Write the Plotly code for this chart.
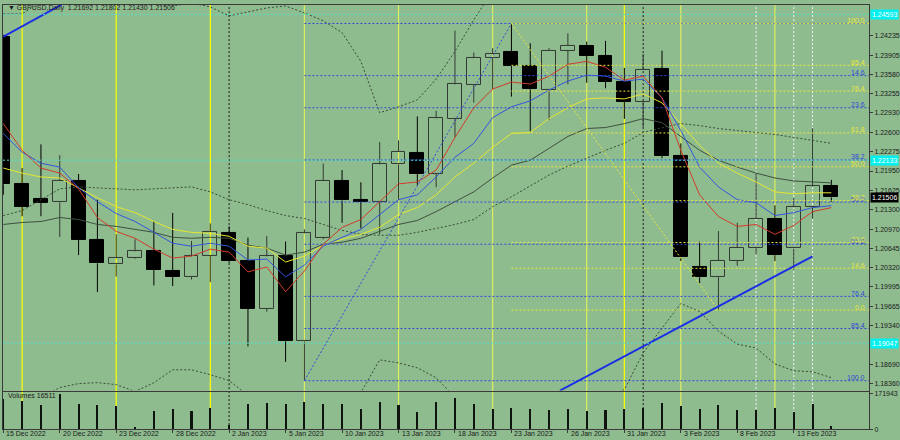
import plotly.graph_objects as go

BG = "#8FBC8F"
FONT = "Liberation Sans"

# ---------------- data ----------------
date_ticks = [0, 3, 6, 9, 12, 15, 18, 21, 24, 27, 30, 33, 36, 39, 42]
date_labels = ["15 Dec 2022", "20 Dec 2022", "23 Dec 2022", "28 Dec 2022", "2 Jan 2023",
               "5 Jan 2023", "10 Jan 2023", "13 Jan 2023", "18 Jan 2023", "23 Jan 2023",
               "26 Jan 2023", "31 Jan 2023", "3 Feb 2023", "8 Feb 2023", "13 Feb 2023"]

opens = [1.24218, 1.21728, 1.21478, 1.21421, 1.21788, 1.20782, 1.20377, 1.20477, 1.20599, 1.20265,
         1.20160, 1.20515, 1.20904, 1.20427, 1.19626, 1.20520, 1.19076, 1.20827, 1.21788, 1.21454,
         1.21428, 1.22062, 1.22255, 1.21900, 1.22829, 1.23401, 1.23856, 1.23956, 1.23730, 1.23318,
         1.23980, 1.24063, 1.23896, 1.23456, 1.23117, 1.23673, 1.22200, 1.20327, 1.20160, 1.20437,
         1.20660, 1.21149, 1.20644, 1.21338, 1.21692]
highs = [1.24250, 1.22000, 1.22400, 1.22217, 1.21900, 1.21466, 1.20882, 1.20799, 1.21104, 1.21244,
         1.20771, 1.21066, 1.21016, 1.20827, 1.20854, 1.20760, 1.20966, 1.22078, 1.21966, 1.21761,
         1.22438, 1.22467, 1.22872, 1.22967, 1.24318, 1.23951, 1.24023, 1.24440, 1.24107, 1.24023,
         1.24273, 1.24135, 1.24147, 1.23690, 1.23923, 1.23980, 1.22417, 1.20760, 1.20937, 1.21077,
         1.21911, 1.21371, 1.21494, 1.22672, 1.21802]
lows = [1.21549, 1.21188, 1.21188, 1.20837, 1.20532, 1.19910, 1.20170, 1.20465, 1.20020, 1.20010,
        1.20120, 1.20077, 1.20399, 1.18992, 1.19576, 1.18730, 1.18413, 1.20799, 1.21077, 1.20982,
        1.20882, 1.21466, 1.21716, 1.21678, 1.22522, 1.23106, 1.23329, 1.23206, 1.22622, 1.22812,
        1.23413, 1.23439, 1.23346, 1.22829, 1.22689, 1.22167, 1.20432, 1.20048, 1.19603, 1.20353,
        1.20549, 1.20432, 1.20287, 1.21149, 1.21430]
closes = [1.21728, 1.21344, 1.21411, 1.21788, 1.20787, 1.20394, 1.20477, 1.20594, 1.20282, 1.20160,
          1.20510, 1.20927, 1.20427, 1.19626, 1.20510, 1.19076, 1.20899, 1.21788, 1.21454, 1.21428,
          1.22062, 1.22272, 1.21900, 1.22839, 1.23413, 1.23856, 1.23930, 1.23730, 1.23329, 1.23980,
          1.24063, 1.23896, 1.23456, 1.23117, 1.23663, 1.22200, 1.20494, 1.20160, 1.20437, 1.20660,
          1.21149, 1.20532, 1.21338, 1.21690, 1.21506]
volumes = [148300, 138800, 119800, 171943, 124600, 119800, 112300, 14200, 91400, 99500,
           91400, 104200, 22300, 124600, 129300, 124600, 132600, 124600, 121700, 99500,
           131200, 118400, 85300, 132600, 151600, 124600, 100900, 104200, 99500, 96200,
           100900, 88600, 96200, 98100, 104200, 127900, 112300, 100900, 118400, 94700,
           94700, 104200, 86700, 124600, 16511]

ma_red = [1.22750, 1.22300, 1.22000, 1.21916, 1.21650, 1.21166, 1.20932, 1.20816, 1.20632, 1.20482,
          1.20515, 1.20632, 1.20582, 1.20248, 1.20332, 1.19915, 1.20265, 1.20715, 1.20999, 1.21132,
          1.21433, 1.21733, 1.21766, 1.21966, 1.22517, 1.23017, 1.23334, 1.23451, 1.23418, 1.23551,
          1.23751, 1.23801, 1.23701, 1.23484, 1.23551, 1.23184, 1.22300, 1.21549, 1.21182, 1.21016,
          1.21049, 1.20882, 1.21032, 1.21266, 1.21333]
ma_blue = [1.22584, 1.22267, 1.22083, 1.22016, 1.21666, 1.21433, 1.21233, 1.21099, 1.20916, 1.20732,
           1.20682, 1.20732, 1.20682, 1.20449, 1.20465, 1.20165, 1.20365, 1.20682, 1.20832, 1.20966,
           1.21216, 1.21466, 1.21549, 1.21850, 1.22183, 1.22417, 1.22850, 1.23034, 1.23134, 1.23318,
           1.23468, 1.23568, 1.23551, 1.23468, 1.23501, 1.23184, 1.22634, 1.22016, 1.21683, 1.21466,
           1.21416, 1.21199, 1.21249, 1.21333, 1.21366]
ma_yellow = [1.22000, 1.21916, 1.21850, 1.21833, 1.21666, 1.21499, 1.21349, 1.21249, 1.21099, 1.20966,
             1.20916, 1.20899, 1.20849, 1.20682, 1.20649, 1.20415, 1.20515, 1.20699, 1.20799, 1.20882,
             1.20999, 1.21216, 1.21333, 1.21549, 1.21850, 1.22083, 1.22350, 1.22584, 1.22600, 1.22834,
             1.23017, 1.23167, 1.23184, 1.23167, 1.23251, 1.23101, 1.22750, 1.22383, 1.22083, 1.21916,
             1.21766, 1.21599, 1.21566, 1.21583, 1.21583]
ma_gray = [1.21049, 1.21082, 1.21099, 1.21166, 1.21132, 1.21049, 1.21016, 1.20966, 1.20916, 1.20832,
           1.20816, 1.20832, 1.20816, 1.20699, 1.20649, 1.20532, 1.20582, 1.20715, 1.20749, 1.20816,
           1.20932, 1.21049, 1.21116, 1.21266, 1.21433, 1.21599, 1.21833, 1.22050, 1.22133, 1.22333,
           1.22534, 1.22667, 1.22684, 1.22750, 1.22834, 1.22767, 1.22534, 1.22300, 1.22133, 1.22016,
           1.21916, 1.21833, 1.21783, 1.21766, 1.21750]
bb_mid = [1.21199, 1.21283, 1.21466, 1.21650, 1.21683, 1.21666, 1.21650, 1.21633, 1.21650, 1.21666,
          1.21683, 1.21599, 1.21466, 1.21383, 1.21283, 1.21199, 1.21149, 1.21049, 1.20949, 1.20882,
          1.20866, 1.20866, 1.20916, 1.20982, 1.21049, 1.21132, 1.21349, 1.21516, 1.21700, 1.21883,
          1.22033, 1.22167, 1.22300, 1.22417, 1.22600, 1.22684, 1.22750, 1.22717, 1.22667, 1.22634,
          1.22600, 1.22567, 1.22517, 1.22467, 1.22417]
bb_up = [1.24602, 1.24602, 1.24802, 1.25002, 1.25002, 1.24952, 1.24952, 1.25036, 1.24919, 1.24735,
         1.24785, 1.24719, 1.24569, 1.24635, 1.24702, 1.24735, 1.24619, 1.24485, 1.24285, 1.23801,
         1.22934, 1.23034, 1.23151, 1.23501, 1.23968, 1.24502, 1.25002, 1.25469, 1.25803, 1.25970,
         1.26136, 1.26303, 1.26470, 1.26570, 1.26320, 1.26070, 1.25786, 1.25853, 1.26086, 1.26236,
         1.26236, 1.26437, 1.26453, 1.26370, 1.26370]
bb_low = [1.17796, 1.17963, 1.18130, 1.18297, 1.18364, 1.18380, 1.18347, 1.18230, 1.18380, 1.18597,
          1.18597, 1.18514, 1.18414, 1.18163, 1.17963, 1.17796, 1.17713, 1.17830, 1.18047, 1.18213,
          1.18764, 1.18714, 1.18630, 1.18464, 1.18130, 1.17796, 1.17630, 1.17596, 1.17630, 1.17796,
          1.17930, 1.18030, 1.18130, 1.18263, 1.18881, 1.19298, 1.19715, 1.19581, 1.19248, 1.19031,
          1.18964, 1.18697, 1.18580, 1.18564, 1.18464]

price_ticks = [1.24235, 1.23905, 1.23580, 1.23255, 1.22930, 1.22600, 1.22275, 1.21950, 1.21625,
               1.21300, 1.20970, 1.20645, 1.20320, 1.19995, 1.19665, 1.19340, 1.18690, 1.18360]
vol_ticks = [0, 171943]

fib_levels = [0.0, 14.6, 23.6, 38.2, 50.0, 61.8, 76.4, 85.4, 100.0]
fib_blue = dict(x1=16, p1=1.18413, x2=27, p2=1.24440)
fib_yellow = dict(x1=27, p1=1.24440, x2=38, p2=1.19603)
fib_blue_hidden_labels = [0.0]

trend_a_x, trend_a_y = [0, 3.1], [1.24218, 1.24757]
trend_b_x, trend_b_y = [29.58, 43], [1.18247, 1.20510]

cyan_levels = [1.24593, 1.22133, 1.19047]

vlines_bright = [1, 6, 11, 33]
vlines_pale = [16, 21, 26, 31, 36, 41]
vlines_black_dot = [12, 34]
vlines_white_dot = [40, 42, 43]

header = "\u25bc GBPUSD,Daily  1.21692 1.21802 1.21430 1.21506"
vol_label = "Volumes 16511"
last_price = closes[-1]

# ---------------- geometry ----------------
W, H = 900, 440
X_RANGE = [-0.016, 46.0]
P_RANGE = [1.18247, 1.24752]
V_RANGE = [0, 181500]
XDOM = [3 / W, 869 / W]
PDOM = [(H - 393) / H, (H - 3) / H]
VDOM = [(H - 432) / H, (H - 394) / H]

idx = list(range(len(opens)))
fig = go.Figure()

# candle bodies
bull = [i for i in idx if closes[i] >= opens[i]]
bear = [i for i in idx if closes[i] < opens[i]]
fig.add_trace(go.Bar(
    x=bull, base=[opens[i] for i in bull], y=[closes[i] - opens[i] for i in bull],
    width=0.74, marker=dict(color="rgba(0,0,0,0)", line=dict(color="#333a33", width=1)),
    xaxis="x", yaxis="y", hoverinfo="skip", showlegend=False))
fig.add_trace(go.Bar(
    x=bear, base=[closes[i] for i in bear], y=[opens[i] - closes[i] for i in bear],
    width=0.74, marker=dict(color="#000000", line=dict(color="#000000", width=1)),
    xaxis="x", yaxis="y", hoverinfo="skip", showlegend=False))

# wicks
def wick_xy(ids):
    xs, ys = [], []
    for i in ids:
        top = max(opens[i], closes[i])
        bot = min(opens[i], closes[i])
        xs += [i, i, None, i, i, None]
        ys += [highs[i], top, None, bot, lows[i], None]
    return xs, ys

for ids, col in ((bull, "#333a33"), (bear, "#000000")):
    wx, wy = wick_xy(ids)
    fig.add_trace(go.Scatter(x=wx, y=wy, mode="lines", line=dict(color=col, width=1),
                             xaxis="x", yaxis="y", hoverinfo="skip", showlegend=False))

# bollinger bands (dotted)
for s in (bb_up, bb_mid, bb_low):
    fig.add_trace(go.Scatter(x=idx, y=s, mode="lines",
                             line=dict(color="#3a4a3a", width=1, dash="2px,2px"),
                             xaxis="x", yaxis="y", hoverinfo="skip", showlegend=False))

# moving averages
for s, col in ((ma_gray, "#3f4f3f"), (ma_yellow, "#e6e632"), (ma_blue, "#3355dd"), (ma_red, "#d23a2a")):
    fig.add_trace(go.Scatter(x=idx, y=s, mode="lines", line=dict(color=col, width=1),
                             xaxis="x", yaxis="y", hoverinfo="skip", showlegend=False))

# fibonacci objects
shapes = []
annotations = []

def fib(obj, col, hidden):
    span = obj["p1"] - obj["p2"]
    for r in fib_levels:
        lvl = obj["p2"] + span * r / 100.0
        fig.add_trace(go.Scatter(x=[obj["x1"], X_RANGE[1]], y=[lvl, lvl], mode="lines",
                                 line=dict(color=col, width=1, dash="2px,2px"),
                                 xaxis="x", yaxis="y", hoverinfo="skip", showlegend=False))
        if r not in hidden:
            annotations.append(dict(x=867 / W, xref="paper", xanchor="right",
                                    y=lvl, yref="y", yanchor="middle", yshift=3,
                                    text="%.1f" % r, showarrow=False,
                                    font=dict(family=FONT, size=7, color=col)))
    fig.add_trace(go.Scatter(x=[obj["x1"], obj["x2"]], y=[obj["p1"], obj["p2"]], mode="lines",
                             line=dict(color=col, width=1, dash="2px,2px"),
                             xaxis="x", yaxis="y", hoverinfo="skip", showlegend=False))

fib(fib_blue, "#3048d8", fib_blue_hidden_labels)
fib(fib_yellow, "#e8e83a", [])

# trend lines
for tx, ty in ((trend_a_x, trend_a_y), (trend_b_x, trend_b_y)):
    fig.add_trace(go.Scatter(x=tx, y=ty, mode="lines", line=dict(color="#1a2ee6", width=2),
                             xaxis="x", yaxis="y", hoverinfo="skip", showlegend=False))

# cyan horizontal lines
for lv in cyan_levels:
    fig.add_trace(go.Scatter(x=X_RANGE, y=[lv, lv], mode="lines",
                             line=dict(color="#4fe0d0", width=1, dash="2px,2px"),
                             xaxis="x", yaxis="y", hoverinfo="skip", showlegend=False))
    annotations.append(dict(x=870 / W, xref="paper", xanchor="left", y=lv, yref="y",
                            yanchor="middle", text="%.5f" % lv, showarrow=False,
                            bgcolor="#00f0f0", borderpad=1,
                            font=dict(family=FONT, size=7, color="#ffffff")))

# volumes
fig.add_trace(go.Bar(x=idx, y=volumes, width=0.11, marker=dict(color="#0f140f", line=dict(width=0)),
                     xaxis="x2", yaxis="y2", hoverinfo="skip", showlegend=False))

# vertical separators
def vline(i, col, dash=None, width=1.2):
    ln = dict(color=col, width=width)
    if dash:
        ln["dash"] = dash
    shapes.append(dict(type="line", xref="x", yref="paper", x0=i, x1=i,
                       y0=VDOM[0], y1=PDOM[1], layer="below", line=ln))

for i in vlines_bright:
    vline(i, "#ffff00")
for i in vlines_pale:
    vline(i, "#dcec5c")
for i in vlines_black_dot:
    vline(i, "#1a1a1a", "2px,2px", 1)
for i in vlines_white_dot:
    vline(i, "#f4f4f4", "2px,2px", 1)

# text
annotations.append(dict(x=6 / W, xref="paper", xanchor="left", y=(H - 6.5) / H, yref="paper",
                        yanchor="middle", text=header, showarrow=False,
                        font=dict(family=FONT, size=7, color="#1a1a1a")))
annotations.append(dict(x=6 / W, xref="paper", xanchor="left", y=(H - 398.5) / H, yref="paper",
                        yanchor="middle", text=vol_label, showarrow=False,
                        font=dict(family=FONT, size=7, color="#1a1a1a")))
annotations.append(dict(x=870 / W, xref="paper", xanchor="left", y=last_price, yref="y",
                        yanchor="middle", text="%.5f" % last_price, showarrow=False,
                        bgcolor="#000000", borderpad=1,
                        font=dict(family=FONT, size=7, color="#ffffff")))
for t, lab in zip(date_ticks, date_labels):
    annotations.append(dict(x=t, xref="x2", xanchor="left", xshift=1, y=(H - 436.5) / H, yref="paper",
                            yanchor="middle", text=lab, showarrow=False,
                            font=dict(family=FONT, size=7, color="#1a1a1a")))

axis_line = "#3a3a3a"
fig.update_layout(
    width=W, height=H, margin=dict(l=0, r=0, t=0, b=0), autosize=False,
    paper_bgcolor=BG, plot_bgcolor=BG, barmode="overlay", bargap=0,
    showlegend=False, shapes=shapes, annotations=annotations,
    xaxis=dict(domain=XDOM, range=X_RANGE, anchor="y", showgrid=False, zeroline=False,
               showticklabels=False, showline=True, mirror=True, linecolor=axis_line, linewidth=1),
    xaxis2=dict(domain=XDOM, range=X_RANGE, anchor="y2", matches="x", showgrid=False, zeroline=False,
                showticklabels=False, showline=True, mirror=True, linecolor=axis_line, linewidth=1,
                ticks="outside", tickvals=date_ticks, ticklen=3, tickcolor=axis_line),
    yaxis=dict(domain=PDOM, range=P_RANGE, anchor="x", side="right", showgrid=False, zeroline=False,
               tickvals=price_ticks, ticktext=["%.5f" % v for v in price_ticks],
               ticks="outside", ticklen=3, tickcolor=axis_line,
               tickfont=dict(family=FONT, size=7, color="#1a1a1a"),
               showline=True, mirror=True, linecolor=axis_line, linewidth=1),
    yaxis2=dict(domain=VDOM, range=V_RANGE, anchor="x2", side="right", showgrid=False, zeroline=False,
                tickvals=vol_ticks, ticktext=[str(v) for v in vol_ticks],
                ticks="outside", ticklen=3, tickcolor=axis_line,
                tickfont=dict(family=FONT, size=7, color="#1a1a1a"),
                showline=True, mirror=True, linecolor=axis_line, linewidth=1),
)

fig.write_html("out.html", config={"displayModeBar": False},
               post_script="document.body.style.margin='0';document.body.style.overflow='hidden';")
